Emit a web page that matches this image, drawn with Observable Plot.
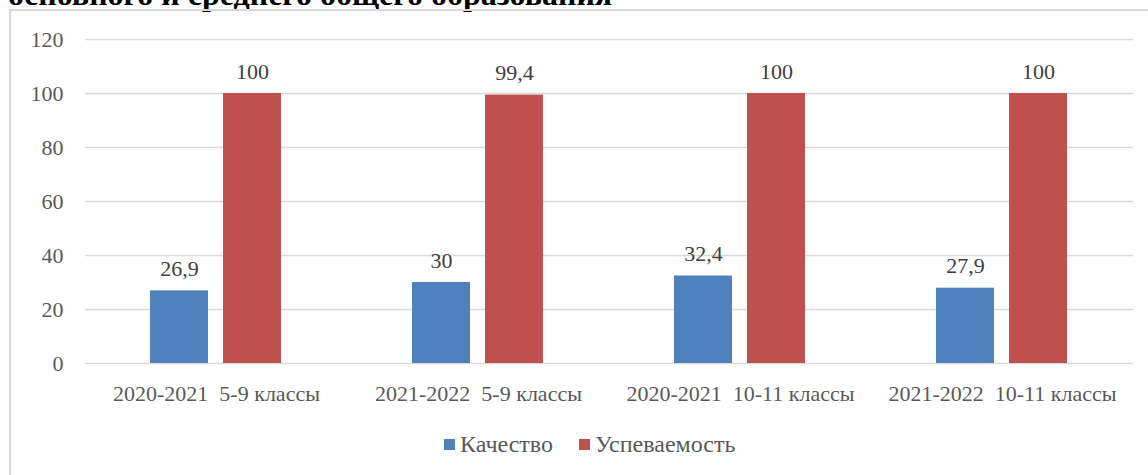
<!DOCTYPE html>
<html>
<head>
<meta charset="utf-8">
<script src="https://cdn.jsdelivr.net/npm/d3@7"></script>
<script src="https://cdn.jsdelivr.net/npm/@observablehq/plot@0.6"></script>
<style>
  html, body { margin: 0; padding: 0; background: #fff; overflow: hidden; }
  #page { position: relative; width: 1148px; height: 475px; overflow: hidden; }
  #title { position: absolute; left: 8px; top: -22px; font-family: "Liberation Serif", serif; font-weight: bold; font-size: 32px; line-height: 32px; color: #000; white-space: nowrap; }
  #frame { position: absolute; left: 9px; top: 9px; width: 1300px; height: 600px; border-left: 2px solid #d9d9d9; border-top: 2px solid #d9d9d9; }
  #chart { position: absolute; left: 0; top: 0; }
  #legend { position: absolute; left: 444px; top: 432px; display: flex; align-items: center; font-family: "Liberation Serif", serif; font-size: 24px; line-height: 24px; color: #595959; }
  .item { display: flex; align-items: center; }
  .item:first-child { width: 135px; }
  .sw { width: 11px; height: 11px; margin-right: 5px; flex: none; }
</style>
</head>
<body>
<div id="page">
  <div id="title">основного и среднего общего образования</div>
  <div id="frame"></div>
  <div id="chart"></div>
  <div id="legend"></div>
</div>
<script>
const categories = ["2020-2021\u00a0 5-9 классы", "2021-2022\u00a0 5-9 классы", "2020-2021\u00a0 10-11 классы", "2021-2022\u00a0 10-11 классы"];
const series = ["Качество", "Успеваемость"];
const quality = [26.9, 30, 32.4, 27.9];
const progress = [100, 99.4, 100, 100];
const yTicks = [0, 20, 40, 60, 80, 100, 120];
const colors = ["#4f81bd", "#c0504d"];

const data = categories.flatMap((c, i) => [
  {category: c, series: series[0], value: quality[i]},
  {category: c, series: series[1], value: progress[i]}
]);

const chart = Plot.plot({
  width: 1148,
  height: 420,
  marginLeft: 85,
  marginRight: 15,
  marginTop: 39,
  marginBottom: 57,
  style: {fontFamily: "Liberation Serif", fontSize: "22px", color: "#595959", background: "transparent", overflow: "visible"},
  fx: {domain: categories, paddingInner: 0, paddingOuter: 0, label: null},
  x: {domain: series, paddingInner: 0.203, paddingOuter: 0.872, axis: null},
  y: {domain: [0, 120], label: null},
  color: {domain: series, range: colors},
  marks: [
    Plot.gridY(yTicks, {stroke: "#d9d9d9", strokeOpacity: 1, strokeWidth: 1.5}),
    Plot.barY(data, {fx: "category", x: "series", y: "value", fill: "series"}),
    Plot.text(data, {fx: "category", x: "series", y: "value", text: d => String(d.value).replace(".", ","), dy: -15, lineAnchor: "bottom", fill: "#404040", fontSize: 22}),
    Plot.axisY(yTicks, {tickSize: 0, tickPadding: 22, label: null, fontSize: 22}),
    Plot.axisFx({tickSize: 0, tickPadding: 22, label: null, anchor: "bottom", fontSize: 22})
  ]
});
document.getElementById("chart").appendChild(chart);

const legend = document.getElementById("legend");
series.forEach((s, i) => {
  const item = document.createElement("div");
  item.className = "item";
  const sw = document.createElement("div");
  sw.className = "sw";
  sw.style.background = colors[i];
  const t = document.createElement("span");
  t.textContent = s;
  item.appendChild(sw);
  item.appendChild(t);
  legend.appendChild(item);
});
</script>
</body>
</html>
